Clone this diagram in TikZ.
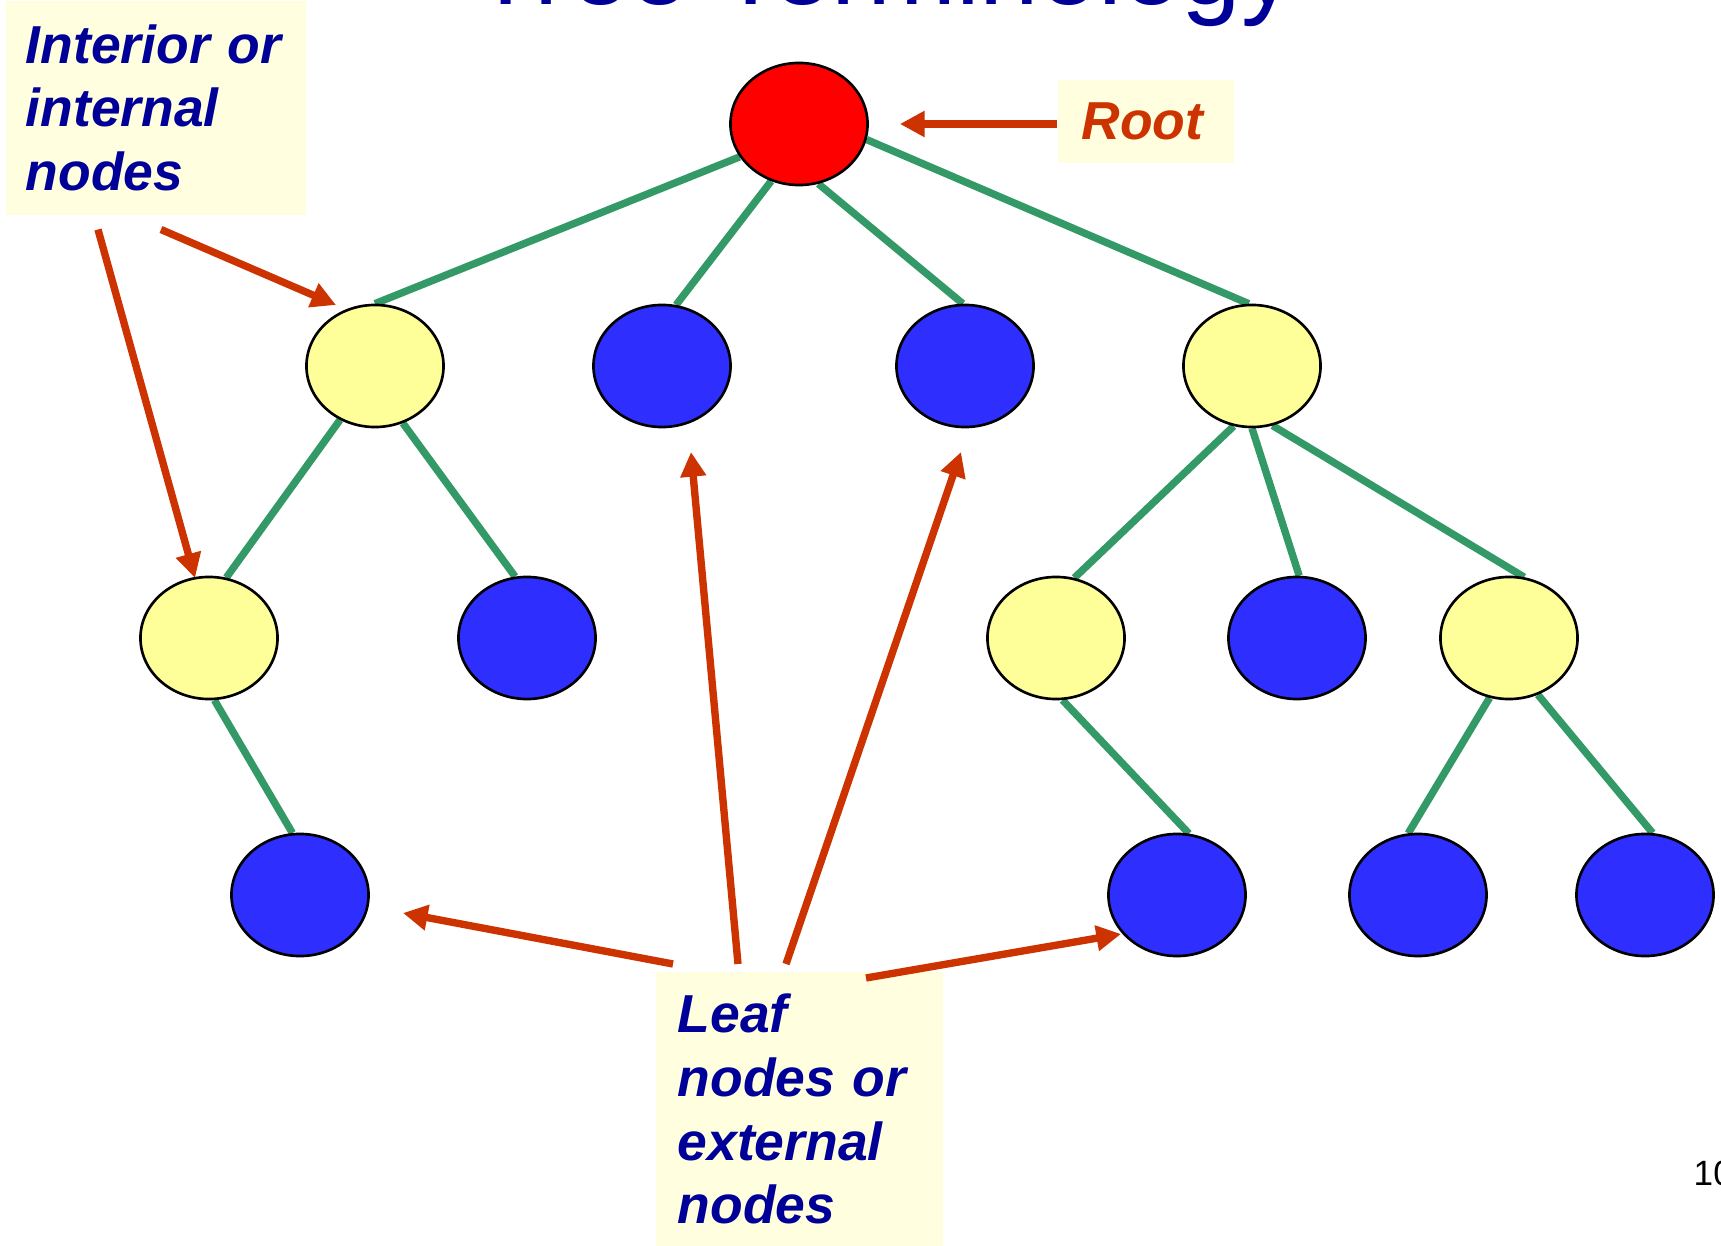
\documentclass[tikz,border=0pt]{standalone}
\usepackage{fontspec}
\newfontfamily\slidefont{Liberation Sans}
\usetikzlibrary{shapes.geometric, arrows.meta, backgrounds}
\definecolor{edgegreen}{RGB}{51,153,102}
\definecolor{nodeyellow}{RGB}{255,255,153}
\definecolor{nodeblue}{RGB}{46,46,255}
\definecolor{arrowred}{RGB}{204,51,0}
\definecolor{notefill}{RGB}{255,255,224}
\definecolor{textnavy}{RGB}{0,0,153}
\tikzset{
    treenode/.style={ellipse, draw=black, line width=0.75pt, minimum width=1.37cm, minimum height=1.22cm, inner sep=0pt},
    innernode/.style={treenode, fill=nodeyellow},
    leafnode/.style={treenode, fill=nodeblue},
    rootnode/.style={treenode, fill=red},
    branch/.style={edgegreen, line width=2.1pt},
    pointer/.style={draw=arrowred, line width=2.1pt, -{Triangle[length=7pt, width=7pt]}},
    notebox/.style={fill=notefill, inner ysep=0pt, align=left, text=textnavy, font=\slidefont\bfseries\itshape\fontsize{15.2}{18.1}\selectfont}
}

\begin{document}
\begin{tikzpicture}[x=0.01cm, y=-0.01cm]
            \useasboundingbox (0,0) rectangle (1721,1246);

            % title and page number, cut by the page edge
            \node[anchor=base, text=textnavy, font=\slidefont\fontsize{30.4}{36}\selectfont] (heading) at (884,5) {Tree Terminology};
            \node[anchor=base west, inner sep=0pt, font=\slidefont\fontsize{10}{12}\selectfont] (pagenum) at (1693,1185) {10};

            % the tree
            \node[rootnode] (root) at (799,124) {};
            \node[innernode] (n1a) at (375,366) {};
            \node[leafnode] (n1b) at (662,366) {};
            \node[leafnode] (n1c) at (965,366) {};
            \node[innernode] (n1d) at (1252,366) {};
            \node[innernode] (n2a) at (209,638) {};
            \node[leafnode] (n2b) at (527,638) {};
            \node[innernode] (n2c) at (1056,638) {};
            \node[leafnode] (n2d) at (1297,638) {};
            \node[innernode] (n2e) at (1509,638) {};
            \node[leafnode] (n3a) at (300,895) {};
            \node[leafnode] (n3b) at (1177,895) {};
            \node[leafnode] (n3c) at (1418,895) {};
            \node[leafnode] (n3d) at (1645,895) {};

            \begin{scope}[on background layer]
                \draw[branch] (root.209.5) -- (n1a.90);
                \draw[branch] (root.244) -- (n1b.77);
                \draw[branch] (root.288) -- (n1c.92);
                \draw[branch] (root.347) -- (n1d.93);
                \draw[branch] (n1a.237) -- (n2a.74);
                \draw[branch] (n1a.296) -- (n2b.101);
                \draw[branch] (n1d.253) -- (n2c.73);
                \draw[branch] (n1d.270) -- (n2d.88);
                \draw[branch] (n1d.289) -- (n2e.76);
                \draw[branch] (n2a.275) -- (n3a.97);
                \draw[branch] (n2c.276) -- (n3b.79);
                \draw[branch] (n2e.252) -- (n3c.99);
                \draw[branch] (n2e.297) -- (n3d.83);
            \end{scope}

            % labels
            \node[notebox, anchor=north west, minimum width=3cm, minimum height=2.14cm, inner xsep=0.2cm, text width=2.6cm] (internote) at (5,0) {Interior or\\internal\\nodes};
            \node[notebox, anchor=north west, minimum width=1.76cm, minimum height=0.83cm, inner xsep=0.24cm, text width=1.28cm, text=arrowred] (rootnote) at (1057,79) {Root};
            \node[notebox, anchor=north west, minimum width=2.87cm, minimum height=2.75cm, inner xsep=0.22cm, text width=2.43cm] (leafnote) at (655,971) {Leaf\\nodes or\\external\\nodes};

            % arrows
            \draw[pointer] (rootnote.west |- root) -- ([xshift=0.31cm]root.east);
            \draw[pointer] ([shift={(156,14)}]internote.south west) -- ([shift={(-39,-61)}]n1a.center);
            \draw[pointer] ([shift={(93,14)}]internote.south west) -- ([shift={(-14,-60)}]n2a.center);
            \draw[pointer] ([shift={(18,-7)}]leafnote.north west) -- ([shift={(103,18)}]n3a.center);
            \draw[pointer] ([shift={(83,-7)}]leafnote.north west) -- ([shift={(29,86)}]n1b.center);
            \draw[pointer] ([shift={(131,-7)}]leafnote.north west) -- ([shift={(-4,86)}]n1c.center);
            \draw[pointer] ([shift={(211,7)}]leafnote.north west) -- ([shift={(-56,39)}]n3b.center);
        \end{tikzpicture}
\end{document}
